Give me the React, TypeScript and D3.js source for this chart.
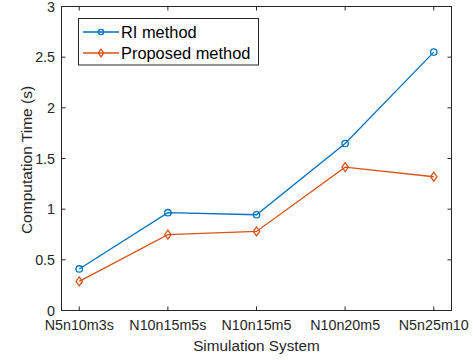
import React from "react";
import * as d3 from "d3";

const categories = ["N5n10m3s", "N10n15m5s", "N10n15m5", "N10n20m5", "N5n25m10"];
const riValues = [0.41, 0.965, 0.945, 1.648, 2.55];
const proposedValues = [0.287, 0.748, 0.78, 1.415, 1.32];
const yTicks = [0, 0.5, 1, 1.5, 2, 2.5, 3];
const seriesNames = ["RI method", "Proposed method"];

const W = 473, H = 360;
const M = { left: 61.5, right: 451.5, top: 6.5, bottom: 310.5 };
const FONT = "'Liberation Sans', Arial, Helvetica, sans-serif";
const AX = "#262626";
const BLUE = "#0072BD";
const ORANGE = "#D95319";

export default function App() {
  const x = d3.scaleLinear().domain([0.8, 5.2]).range([M.left, M.right]);
  const y = d3.scaleLinear().domain([0, 3]).range([M.bottom, M.top]);
  const line = d3.line<number>().x((_, i) => x(i + 1)).y((d) => y(d));
  const tl = 4;
  const diamond = (cx: number, cy: number, s = 1) =>
    `M${cx},${cy - 4.5 * s}L${cx + 3.2 * s},${cy}L${cx},${cy + 4.5 * s}L${cx - 3.2 * s},${cy}Z`;

  return (
    <svg width={W} height={H} style={{ position: "absolute", left: 0, top: 0, background: "#fff" }}>
      <rect x={0} y={0} width={W} height={H} fill="#fff" />
      <rect x={M.left} y={M.top} width={M.right - M.left} height={M.bottom - M.top} fill="none" stroke={AX} strokeWidth={1} />
      {categories.map((c, i) => (
        <g key={c}>
          <line x1={x(i + 1)} x2={x(i + 1)} y1={M.bottom} y2={M.bottom - tl} stroke={AX} />
          <line x1={x(i + 1)} x2={x(i + 1)} y1={M.top} y2={M.top + tl} stroke={AX} />
          <text x={x(i + 1)} y={330} textAnchor="middle" fontFamily={FONT} fontSize={14.3} fill={AX}>{c}</text>
        </g>
      ))}
      {yTicks.map((t) => (
        <g key={t}>
          <line x1={M.left} x2={M.left + tl} y1={y(t)} y2={y(t)} stroke={AX} />
          <line x1={M.right} x2={M.right - tl} y1={y(t)} y2={y(t)} stroke={AX} />
          <text x={55} y={y(t)} dy="0.36em" textAnchor="end" fontFamily={FONT} fontSize={14.3} fill={AX}>{t}</text>
        </g>
      ))}
      <text x={(M.left + M.right) / 2} y={351} textAnchor="middle" fontFamily={FONT} fontSize={15.3} fill={AX}>Simulation System</text>
      <text transform={`translate(32,160) rotate(-90)`} textAnchor="middle" fontFamily={FONT} fontSize={15.5} fill={AX}>Computation Time (s)</text>

      <path d={line(riValues) || ""} fill="none" stroke={BLUE} strokeWidth={1.3} />
      {riValues.map((v, i) => (
        <circle key={i} cx={x(i + 1)} cy={y(v)} r={3.2} fill="none" stroke={BLUE} strokeWidth={1.3} />
      ))}
      <path d={line(proposedValues) || ""} fill="none" stroke={ORANGE} strokeWidth={1.3} />
      {proposedValues.map((v, i) => (
        <path key={i} d={diamond(x(i + 1), y(v))} fill="none" stroke={ORANGE} strokeWidth={1.3} />
      ))}

      <rect x={78.5} y={18.5} width={180} height={46.5} fill="#fff" stroke={AX} strokeWidth={1} />
      <line x1={83} x2={119} y1={32} y2={32} stroke={BLUE} strokeWidth={1.3} />
      <circle cx={101} cy={32} r={2.6} fill="none" stroke={BLUE} strokeWidth={1.3} />
      <text x={121} y={32} dy="0.36em" fontFamily={FONT} fontSize={16.4} fill="#000">{seriesNames[0]}</text>
      <line x1={83} x2={119} y1={53} y2={53} stroke={ORANGE} strokeWidth={1.3} />
      <path d={diamond(101, 53, 0.85)} fill="none" stroke={ORANGE} strokeWidth={1.3} />
      <text x={121} y={53} dy="0.36em" fontFamily={FONT} fontSize={16.4} fill="#000">{seriesNames[1]}</text>
    </svg>
  );
}
